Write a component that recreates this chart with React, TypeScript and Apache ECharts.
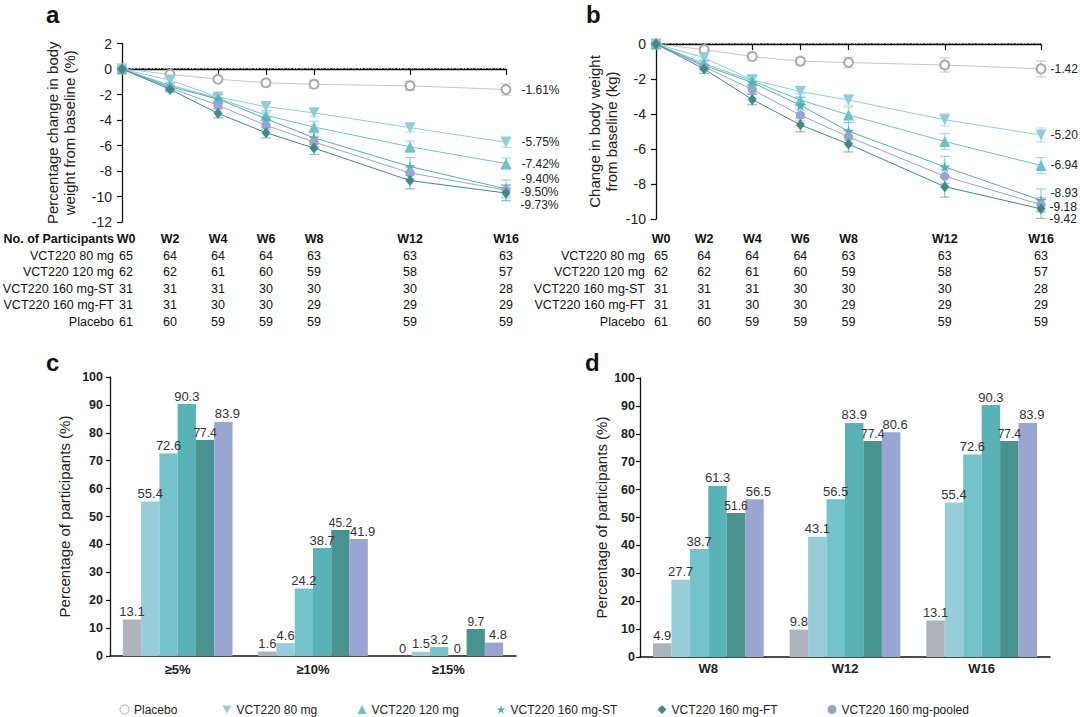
import React, { useEffect, useRef } from "react";
import * as echarts from "echarts";

const FONT = '"Liberation Sans", Arial, Helvetica, sans-serif';

// ---------- shared ----------
const weeks = [0, 2, 4, 6, 8, 12, 16];
const weekLabels = ["W0", "W2", "W4", "W6", "W8", "W12", "W16"];
const arms = [
  "Placebo",
  "VCT220 80 mg",
  "VCT220 120 mg",
  "VCT220 160 mg-ST",
  "VCT220 160 mg-FT",
  "VCT220 160 mg-pooled",
];

// ---------- panel a: % change from baseline ----------
const pctPlacebo = [0, -0.42, -0.8, -1.08, -1.2, -1.32, -1.61];
const pct80 = [0, -0.87, -2.2, -2.95, -3.44, -4.6, -5.75];
const pct120 = [0, -1.28, -2.28, -3.63, -4.55, -6.1, -7.42];
const pctST = [0, -1.4, -2.35, -3.9, -5.4, -7.65, -9.4];
const pctFT = [0, -1.6, -3.48, -5.0, -6.2, -8.75, -9.73];
const pctPooled = [0, -1.48, -2.85, -4.42, -5.72, -8.15, -9.5];

const pctErrPlacebo = [0, 0.12, 0.15, 0.2, 0.3, 0.35, 0.45];
const pctErr80 = [0, 0.2, 0.25, 0.3, 0.3, 0.35, 0.4];
const pctErr120 = [0, 0.2, 0.3, 0.35, 0.45, 0.45, 0.45];
const pctErrST = [0, 0.25, 0.35, 0.45, 0.5, 0.7, 0.7];
const pctErrFT = [0, 0.2, 0.35, 0.4, 0.5, 0.65, 0.6];
const pctErrPooled = [0, 0.15, 0.25, 0.3, 0.35, 0.45, 0.45];

// ---------- panel b: kg change from baseline ----------
const kgPlacebo = [0, -0.32, -0.72, -0.98, -1.06, -1.2, -1.42];
const kg80 = [0, -0.78, -2.05, -2.72, -3.2, -4.33, -5.2];
const kg120 = [0, -1.12, -2.1, -3.2, -4.05, -5.57, -6.94];
const kgST = [0, -1.22, -2.2, -3.5, -4.98, -7.02, -8.93];
const kgFT = [0, -1.43, -3.17, -4.62, -5.72, -8.15, -9.42];
const kgPooled = [0, -1.3, -2.6, -4.07, -5.3, -7.56, -9.18];

const kgErrPlacebo = [0, 0.12, 0.2, 0.2, 0.3, 0.4, 0.45];
const kgErr80 = [0, 0.2, 0.3, 0.3, 0.3, 0.35, 0.4];
const kgErr120 = [0, 0.2, 0.3, 0.35, 0.45, 0.45, 0.45];
const kgErrST = [0, 0.25, 0.35, 0.45, 0.5, 0.6, 0.65];
const kgErrFT = [0, 0.25, 0.3, 0.4, 0.45, 0.6, 0.55];
const kgErrPooled = [0, 0.15, 0.25, 0.3, 0.35, 0.4, 0.4];

// ---------- participants table ----------
const tableNames = ["VCT220 80 mg", "VCT220 120 mg", "VCT220 160 mg-ST", "VCT220 160 mg-FT", "Placebo"];
const n80 = [65, 64, 64, 64, 63, 63, 63];
const n120 = [62, 62, 61, 60, 59, 58, 57];
const nST = [31, 31, 31, 30, 30, 30, 28];
const nFT = [31, 31, 30, 30, 29, 29, 29];
const nPlacebo = [61, 60, 59, 59, 59, 59, 59];

// ---------- panel c ----------
const cCategories = ["≥5%", "≥10%", "≥15%"];
const cPlacebo = [13.1, 1.6, 0];
const c80 = [55.4, 4.6, 1.5];
const c120 = [72.6, 24.2, 3.2];
const cST = [90.3, 38.7, 0];
const cFT = [77.4, 45.2, 9.7];
const cPooled = [83.9, 41.9, 4.8];

// ---------- panel d ----------
const dCategories = ["W8", "W12", "W16"];
const dPlacebo = [4.9, 9.8, 13.1];
const d80 = [27.7, 43.1, 55.4];
const d120 = [38.7, 56.5, 72.6];
const dST = [61.3, 83.9, 90.3];
const dFT = [51.6, 77.4, 77.4];
const dPooled = [56.5, 80.6, 83.9];

// ---------- styles ----------
const lineColors = ["#a9a9a9", "#8dd0d9", "#6dc3c9", "#4eb3b3", "#3b8d86", "#98a3d4"];
const barColors = ["#aeb4bc", "#97cdd8", "#75c3ca", "#58b2b6", "#48938f", "#98a6d1"];
const STAR =
  "path://M50,2 L61.8,35.6 L97.6,35.6 L68.6,56.8 L79.4,90.6 L50,69.8 L20.6,90.6 L31.4,56.8 L2.4,35.6 L38.2,35.6 Z";
const DOWN = "path://M0,0 L100,0 L50,87 Z";
const symbols = ["emptyCircle", DOWN, "triangle", STAR, "diamond", "circle"];
const symbolSizes: any[] = [9, 11, 11, 11, [9, 11], 9];
const legendIcons = ["circle", DOWN, "triangle", STAR, "diamond", "circle"];
const legendX = [124, 227, 362, 501, 662, 832];

const drawOrder = [0, 1, 2, 3, 5, 4];

function errorSeries(k: number, vals: number[], errs: number[], color: string) {
  return {
    type: "custom",
    name: "err" + k + color,
    xAxisIndex: k,
    yAxisIndex: k,
    silent: true,
    z: 2,
    encode: { x: 0, y: 1 },
    data: weeks.map((w, j) => [w, vals[j], errs[j]]),
    renderItem: (params: any, api: any) => {
      const x = api.value(0);
      const y = api.value(1);
      const e = api.value(2);
      if (!e) return null;
      const top = api.coord([x, y + e]);
      const bot = api.coord([x, y - e]);
      const hw = 5;
      const style = { stroke: color, lineWidth: 1.2, opacity: 0.55 };
      return {
        type: "group",
        children: [
          { type: "line", shape: { x1: top[0], y1: top[1], x2: bot[0], y2: bot[1] }, style },
          { type: "line", shape: { x1: top[0] - hw, y1: top[1], x2: top[0] + hw, y2: top[1] }, style },
          { type: "line", shape: { x1: bot[0] - hw, y1: bot[1], x2: bot[0] + hw, y2: bot[1] }, style },
        ],
      };
    },
  };
}

function lineSeries(k: number, i: number, vals: number[], dy: number, dist: number, suffix: string) {
  const last = vals.length - 1;
  return {
    type: "line",
    name: arms[i],
    xAxisIndex: k,
    yAxisIndex: k,
    z: 3 + drawOrder.indexOf(i),
    data: weeks.map((w, j) => [w, vals[j]]),
    symbol: symbols[i],
    symbolSize: symbolSizes[i],
    showAllSymbol: true,
    lineStyle: { width: 1, color: i === 0 ? "#c6c6c6" : lineColors[i] },
    itemStyle: { color: lineColors[i], borderWidth: i === 0 ? 1.2 : 0 },
    label: {
      show: true,
      position: "right",
      distance: dist,
      offset: [0, dy],
      fontSize: 12,
      lineHeight: 10,
      fontFamily: FONT,
      color: "#222",
      formatter: (p: any) => (p.dataIndex === last ? vals[last].toFixed(2) + suffix : ""),
    },
  };
}

function tableAxisLabel(padW0: number) {
  const rows = [n80, n120, nST, nFT, nPlacebo];
  const base = { fontSize: 12.5, lineHeight: 16.5, color: "#111", fontFamily: FONT };
  return {
    customValues: weeks,
    margin: 0,
    formatter: (v: number) => {
      const i = weeks.indexOf(v);
      const s = i === 0 ? "0" : "";
      return [`{h${s}|${weekLabels[i]}}`, ...rows.map((r) => `{n${s}|${r[i]}}`)].join("\n");
    },
    rich: {
      h: { ...base, fontWeight: "bold" },
      n: { ...base },
      h0: { ...base, fontWeight: "bold", padding: [0, 0, 0, padW0] },
      n0: { ...base, padding: [0, 0, 0, padW0] },
    },
  };
}

const rowY = [239, 255.5, 272, 288.5, 305, 321.5];

export default function App() {
  const ref = useRef<HTMLDivElement>(null);

  useEffect(() => {
    document.body.style.margin = "0";
    const chart = echarts.init(ref.current!, undefined, { renderer: "svg" });

    const pctVals = [pctPlacebo, pct80, pct120, pctST, pctFT, pctPooled];
    const pctErrs = [pctErrPlacebo, pctErr80, pctErr120, pctErrST, pctErrFT, pctErrPooled];
    const kgVals = [kgPlacebo, kg80, kg120, kgST, kgFT, kgPooled];
    const kgErrs = [kgErrPlacebo, kgErr80, kgErr120, kgErrST, kgErrFT, kgErrPooled];
    const cVals = [cPlacebo, c80, c120, cST, cFT, cPooled];
    const dVals = [dPlacebo, d80, d120, dST, dFT, dPooled];
    const aOffsets = [0, 0, 0, -10, 12, 2];
    const bOffsets = [0, 0, 0, -7, 10, 2];

    const series: any[] = [];
    arms.forEach((_, i) => series.push(lineSeries(0, i, pctVals[i], aOffsets[i], 10, "%")));
    arms.forEach((_, i) => series.push(lineSeries(1, i, kgVals[i], bOffsets[i], 4, "")));
    arms.forEach((_, i) => series.push(errorSeries(0, pctVals[i], pctErrs[i], lineColors[i])));
    arms.forEach((_, i) => series.push(errorSeries(1, kgVals[i], kgErrs[i], lineColors[i])));
    [0, 1].forEach((k) =>
      series.push({
        type: "line",
        name: "baseline" + k,
        xAxisIndex: k,
        yAxisIndex: k,
        data: [
          [weeks[0], 0],
          [weeks[weeks.length - 1], 0],
        ],
        symbol: "none",
        silent: true,
        z: 1,
        lineStyle: { color: "#111", width: 1.5, type: [2.5, 1.5, 1, 1.5] },
      })
    );
    const barLabel = (i: number) => ({
      show: true,
      position: "top",
      distance: i === 4 ? 2 : 3,
      offset: i === 5 ? [4, 0] : [0, 0],
      fontSize: i === 4 ? 12 : 13,
      lineHeight: 10,
      fontFamily: FONT,
      color: "#333",
    });
    arms.forEach((_, i) =>
      series.push({
        type: "bar",
        name: arms[i],
        xAxisIndex: 2,
        yAxisIndex: 2,
        data: cVals[i],
        barGap: "0%",
        barCategoryGap: "19%",
        itemStyle: { color: barColors[i] },
        label: barLabel(i),
      })
    );
    arms.forEach((_, i) =>
      series.push({
        type: "bar",
        name: arms[i],
        xAxisIndex: 3,
        yAxisIndex: 3,
        data: dVals[i],
        barGap: "0%",
        barCategoryGap: "19%",
        itemStyle: { color: barColors[i] },
        label: barLabel(i),
      })
    );

    const axisLine = { show: true, lineStyle: { color: "#111", width: 1.3 } };
    const tick = { show: true, inside: false, length: 5, lineStyle: { color: "#111", width: 1.2 } };

    const lineY = (min: number, max: number, name: string, gap: number) => ({
      type: "value",
      min,
      max,
      interval: 2,
      axisLine,
      axisTick: tick,
      splitLine: { show: false },
      axisLabel: { fontSize: 14, color: "#222", margin: 10, fontFamily: FONT },
      name,
      nameLocation: "middle",
      nameRotate: 90,
      nameGap: gap,
      nameTextStyle: { fontSize: 15, lineHeight: 17, color: "#222", fontFamily: FONT },
    });

    const barY = (gap: number, margin: number) => ({
      type: "value",
      min: 0,
      max: 100,
      interval: 10,
      axisLine,
      axisTick: { ...tick, length: 4 },
      splitLine: { show: false },
      axisLabel: { fontSize: 12.5, fontWeight: "bold", color: "#222", margin, fontFamily: FONT },
      name: "Percentage of participants (%)",
      nameLocation: "middle",
      nameRotate: 90,
      nameGap: gap,
      nameTextStyle: { fontSize: 15, color: "#222", fontFamily: FONT },
    });

    const lineX = (margin: number, padW0: number) => ({
      type: "value",
      min: 0,
      max: 16,
      interval: 2,
      axisLine,
      axisTick: { ...tick, length: 6, customValues: weeks },
      splitLine: { show: false },
      axisLabel: { ...tableAxisLabel(padW0), margin },
    });

    const barX = (cats: string[], margin: number) => ({
      type: "category",
      data: cats,
      axisLine: { show: true, lineStyle: { color: "#111", width: 1.5 } },
      axisTick: { show: false },
      axisLabel: { fontSize: 13, fontWeight: "bold", color: "#222", margin, fontFamily: FONT },
    });

    const graphics: any[] = [];
    const letter = (t: string, x: number, y: number) =>
      graphics.push({
        type: "text",
        x,
        y,
        style: {
          text: t,
          fontSize: 24,
          fontWeight: "bold",
          fontFamily: FONT,
          fill: "#111",
          verticalAlign: "middle",
          textVerticalAlign: "middle",
        },
      });
    letter("a", 46, 14);
    letter("b", 586, 14);
    letter("c", 46, 362);
    letter("d", 585, 362);

    const txt = (t: string, x: number, y: number, bold: boolean) =>
      graphics.push({
        type: "text",
        x,
        y,
        style: {
          text: t,
          fontSize: 12.5,
          fontWeight: bold ? "bold" : "normal",
          fontFamily: FONT,
          fill: "#111",
          align: "right",
          textAlign: "right",
          verticalAlign: "middle",
          textVerticalAlign: "middle",
        },
      });
    txt("No. of Participants", 114, rowY[0], true);
    tableNames.forEach((n, r) => {
      txt(n, 114, rowY[r + 1], false);
      txt(n, 645, rowY[r + 1], false);
    });

    const option: any = {
      animation: false,
      backgroundColor: "#fff",
      textStyle: { fontFamily: FONT },
      grid: [
        { left: 122, top: 43.5, width: 384, height: 178.5 },
        { left: 656, top: 44, width: 385, height: 175 },
        { left: 110, top: 377, width: 406, height: 279 },
        { left: 640, top: 378, width: 410, height: 279 },
      ].map((g, i) => ({ ...g, gridIndex: i, containLabel: false })),
      xAxis: [
        { ...lineX(8.75, 8), gridIndex: 0 },
        { ...lineX(11.75, 10), gridIndex: 1 },
        { ...barX(cCategories, 7), gridIndex: 2 },
        { ...barX(dCategories, 5), gridIndex: 3 },
      ],
      yAxis: [
        { ...lineY(-12, 2, "Percentage change in body\nweight from baseline (%)", 44), gridIndex: 0 },
        { ...lineY(-10, 0, "Change in body weight\nfrom baseline (kg)", 36), gridIndex: 1 },
        { ...barY(38, 7), gridIndex: 2 },
        { ...barY(31, 5), gridIndex: 3 },
      ],
      legend: arms.map((n, i) => ({
        data: [
          i === 0
            ? { name: n, icon: legendIcons[i], itemStyle: { color: "#fff", borderColor: "#aaa", borderWidth: 1 } }
            : { name: n, icon: legendIcons[i] },
        ],
        left: legendX[i] - 4.5,
        top: 703.5,
        itemWidth: 9,
        itemHeight: 9,
        itemGap: 0,
        padding: 0,
        selectedMode: false,
        textStyle: { fontSize: 12, color: "#222", fontFamily: FONT },
      })),
      graphic: graphics,
      series,
    };

    chart.setOption(option);
    return () => chart.dispose();
  }, []);

  return <div ref={ref} style={{ width: 1080, height: 717 }} />;
}
